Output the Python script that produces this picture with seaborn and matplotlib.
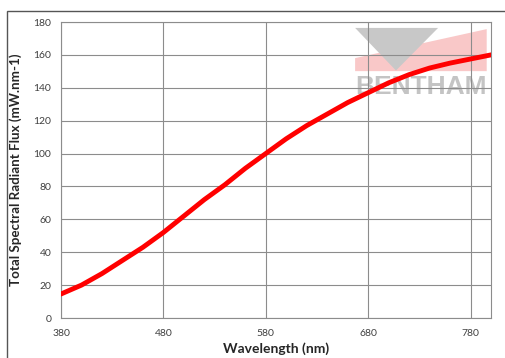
import seaborn as sns
import matplotlib.pyplot as plt
import matplotlib.patches as mpatches
import pandas as pd

wavelength = [380, 400, 420, 440, 460, 480, 500, 520, 540, 560, 580,
              600, 620, 640, 660, 680, 700, 720, 740, 760, 780, 800]
flux = [14.6, 20, 27, 35, 43, 52, 62, 72, 81, 91, 100,
        109, 117, 124, 131, 137, 143, 148, 152, 155, 157.5, 160]
x_ticks = [380, 480, 580, 680, 780]
y_ticks = list(range(0, 181, 20))

df = pd.DataFrame({"Wavelength": wavelength, "Flux": flux})

sns.set_style("white")
plt.rcParams['font.family'] = ['Lato', 'DejaVu Sans']

fig = plt.figure(figsize=(5.05, 3.58), dpi=100)
ax = fig.add_axes([61 / 505, 1 - 318 / 358, 430 / 505, 296 / 358])

# outer chart border
fig.patches.append(mpatches.Rectangle((7 / 505, -0.1), 1.1, 1 - 11 / 358 + 0.1,
                                      transform=fig.transFigure, fill=False,
                                      edgecolor='#555555', linewidth=1.0))

# watermark logo
pink = '#f9c8c8'
ax.add_patch(mpatches.Polygon([(0.684, 0.834), (0.684, 0.878),
                               (0.99, 0.976), (0.99, 0.834)],
                              closed=True, transform=ax.transAxes,
                              facecolor=pink, edgecolor='none', zorder=0))
ax.add_patch(mpatches.Polygon([(0.684, 0.98), (0.877, 0.98), (0.779, 0.836)],
                              closed=True, transform=ax.transAxes,
                              facecolor='#c8c8c8', edgecolor='none', zorder=0))
ax.text(0.837, 0.822, "BENTHAM", transform=ax.transAxes, ha='center',
        va='top', fontsize=19, fontweight='bold', color='#c4c4c4',
        family='Liberation Sans', zorder=0)

sns.lineplot(data=df, x="Wavelength", y="Flux", ax=ax, color='#ff0000',
             linewidth=3.5, zorder=3)

ax.set_xlim(380, 800)
ax.set_ylim(0, 180)
ax.set_xticks(x_ticks)
ax.set_yticks(y_ticks)
ax.grid(True, color='#8c8c8c', linewidth=0.8, zorder=1)
ax.set_axisbelow(True)
for s in ax.spines.values():
    s.set_color('#8c8c8c')
    s.set_linewidth(0.8)
ax.tick_params(axis='both', labelsize=7.5, colors='#404040', length=3,
               width=0.8, direction='out', pad=4)
ax.tick_params(axis='x', length=0, pad=8)
ax.tick_params(axis='y', color='#8c8c8c')

ax.set_xlabel("Wavelength (nm)", fontsize=10, fontweight='bold', labelpad=3)
ax.set_ylabel("Total Spectral Radiant Flux (mW.nm-1)", fontsize=9.6,
              fontweight='bold', labelpad=8)

fig.savefig("out.png", dpi=100)
